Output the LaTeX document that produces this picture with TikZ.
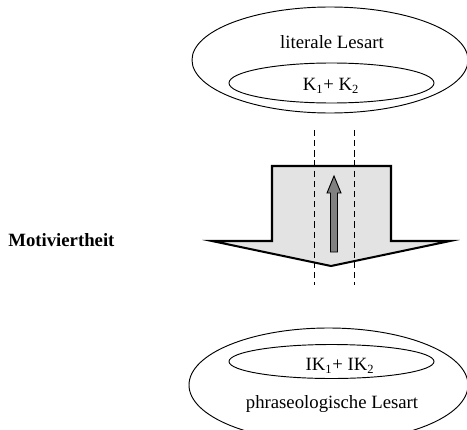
\documentclass[tikz,border=0pt]{standalone}
\usepackage{fontspec}
\setmainfont{Liberation Serif}
\usepackage{tikz}
\usetikzlibrary{shapes,arrows,positioning}

\tikzset{
    lesart/.style={line width=0.6pt},
    schrift/.style={inner sep=0pt, font=\fontsize{12}{14}\selectfont},
}

\begin{document}
\begin{tikzpicture}[x=0.0225cm, y=-0.0225cm]
                \useasboundingbox (0,0) rectangle (467,429);
                \clip (0,0) rectangle (467,429);

                \draw[lesart] (330,60) ellipse [x radius=138, y radius=53];
                \draw[lesart] (331.5,83) ellipse [x radius=102.5, y radius=20];

                \node[schrift] (literal) at (332,42) {literale Lesart};
                \node[schrift] (k) at (331,86) {K\textsubscript{1}+ K\textsubscript{2}};

                \draw[
                    line width=1.3pt,
                    miter limit=20,
                    fill=gray!22
                    ] (272,166) -- (391,166) -- (391,241) -- (450,241)
                    -- (331,266) -- (212,241) -- (272,241) -- cycle;

                \draw[
                    line width=0.6pt,
                    dash pattern=on 4pt off 2.5pt
                ] (314,130) to (314,285);

                \draw[
                    line width=0.6pt,
                    dash pattern=on 4pt off 2.5pt
                ] (354,130) to (354,285);

                \draw[
                    line width=0.6pt,
                    fill=gray
                    ] (330.5,252) -- (330.5,193) -- (327,193) -- (334,176)
                    -- (341,193) -- (337.5,193) -- (337.5,252) -- cycle;

                \node[schrift, font=\fontsize{12}{14}\selectfont\bfseries, anchor=west] (motiv) at (8,240) {Motiviertheit};

                \draw[lesart] (328.5,385) ellipse [x radius=139.5, y radius=57];
                \draw[lesart] (331.5,361.5) ellipse [x radius=102.5, y radius=17];

                \node[schrift] (ik) at (340,366) {IK\textsubscript{1}+ IK\textsubscript{2}};
                \node[schrift] (phras) at (332,404) {phraseologische Lesart};

            \end{tikzpicture}
\end{document}
